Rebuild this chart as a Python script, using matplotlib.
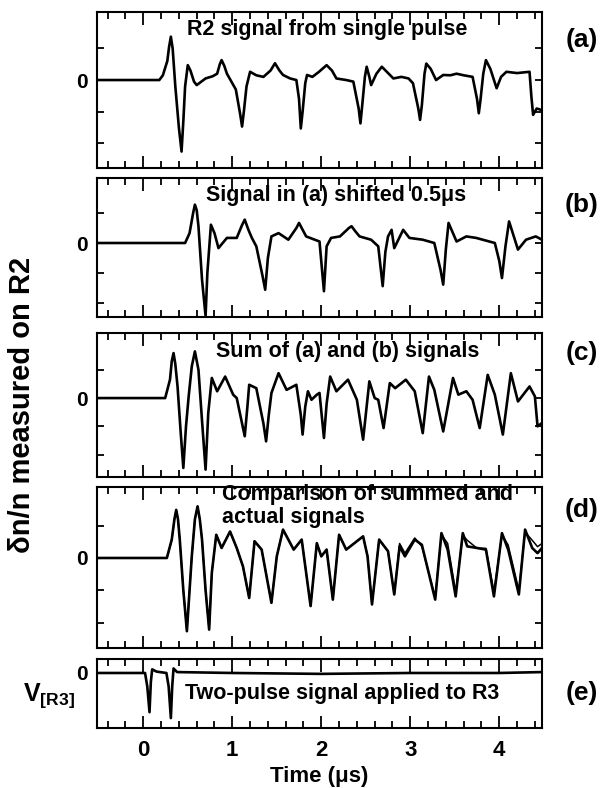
import matplotlib
matplotlib.use("Agg")
import matplotlib.pyplot as plt
from matplotlib.ticker import MultipleLocator

plt.rcParams['font.family'] = ['Liberation Sans', 'DejaVu Sans']
plt.rcParams['font.weight'] = 'bold'
plt.rcParams['mathtext.fontset'] = 'custom'
plt.rcParams['mathtext.bf'] = 'Liberation Sans:bold'
plt.rcParams['mathtext.rm'] = 'Liberation Sans:bold'

# ---- data (time in us, signal in arbitrary units) ----
t_a = [-0.52, 0.18, 0.22, 0.27, 0.29, 0.31, 0.33, 0.36, 0.40, 0.43, 0.45, 0.47, 0.50, 0.53, 0.57, 0.60,
       0.70, 0.78, 0.83, 0.86, 0.88, 0.91, 0.94, 0.97, 1.04, 1.09, 1.11, 1.13, 1.16, 1.20, 1.27, 1.35,
       1.43, 1.48, 1.53, 1.57, 1.65, 1.72, 1.75, 1.77, 1.79, 1.82, 1.84, 1.90, 1.97, 2.06, 2.12, 2.17,
       2.28, 2.36, 2.42, 2.44, 2.46, 2.49, 2.51, 2.54, 2.56, 2.62, 2.68, 2.74, 2.81, 2.90, 2.98, 3.03,
       3.09, 3.11, 3.13, 3.16, 3.18, 3.23, 3.29, 3.37, 3.45, 3.52, 3.60, 3.70, 3.75, 3.77, 3.79, 3.82,
       3.85, 3.90, 3.97, 4.02, 4.08, 4.20, 4.34, 4.36, 4.38, 4.42, 4.48]
y_a = [0.0, 0.0, 0.15, 0.6, 1.05, 1.37, 1.0, -0.2, -1.5, -2.26, -1.3, -0.2, 0.47, 0.3, -0.05, -0.16,
       0.05, 0.12, 0.2, 0.5, 0.63, 0.45, 0.2, 0.05, -0.3, -1.1, -1.47, -1.0, -0.2, 0.26, 0.15, 0.1,
       0.3, 0.53, 0.3, 0.16, 0.05, 0.0, -0.6, -1.53, -1.0, -0.1, 0.16, 0.1, 0.25, 0.47, 0.3, 0.05,
       0.0, -0.05, -0.9, -1.37, -0.8, 0.1, 0.42, 0.1, -0.16, 0.2, 0.42, 0.25, 0.05, 0.1, 0.05, -0.1,
       -0.9, -1.26, -0.8, 0.2, 0.52, 0.35, 0.0, 0.16, 0.15, 0.2, 0.15, 0.1, -0.6, -1.05, -0.6, 0.2,
       0.63, 0.35, -0.26, 0.1, 0.26, 0.22, 0.26, -0.5, -1.1, -0.9, -0.95]

t_b = [-0.52, 0.47, 0.52, 0.56, 0.58, 0.60, 0.62, 0.66, 0.70, 0.72, 0.76, 0.80, 0.845, 0.94, 1.05,
       1.11, 1.14, 1.18, 1.22, 1.27, 1.34, 1.37, 1.40, 1.44, 1.52, 1.63, 1.72, 1.75, 1.78, 1.83, 1.98,
       2.03, 2.06, 2.11, 2.21, 2.31, 2.34, 2.38, 2.43, 2.56, 2.64, 2.69, 2.72, 2.75, 2.79, 2.82, 2.92,
       2.99, 3.14, 3.27, 3.34, 3.37, 3.40, 3.43, 3.52, 3.63, 3.74, 3.95, 4.00, 4.03, 4.07, 4.11, 4.21,
       4.30, 4.41, 4.48]
y_b = [0.0, 0.0, 0.33, 1.0, 1.28, 1.1, 0.56, -1.22, -2.44, -1.0, 0.61, 0.33, -0.17, 0.17, 0.17,
       0.6, 0.78, 0.45, 0.17, -0.11, -1.1, -1.56, -0.5, 0.22, 0.33, 0.11, 0.5, 0.67, 0.5, 0.22, 0.05,
       -1.61, -0.11, 0.17, 0.22, 0.5, 0.56, 0.4, 0.22, 0.11, -0.11, -1.44, -0.3, 0.22, 0.44, -0.17, 0.44,
       0.17, 0.11, 0.0, -0.9, -1.39, -0.2, 0.67, 0.05, 0.22, 0.17, 0.0, -0.6, -1.17, -0.1, 0.72, -0.22,
       0.11, 0.22, 0.11]

t_c = [-0.52, 0.246, 0.30, 0.32, 0.34, 0.36, 0.385, 0.42, 0.45, 0.48, 0.51, 0.545, 0.58, 0.62, 0.66,
       0.70, 0.73, 0.77, 0.83, 0.92, 1.01, 1.05, 1.11, 1.14, 1.17, 1.19, 1.27, 1.35, 1.38, 1.41, 1.44,
       1.52, 1.61, 1.72, 1.77, 1.79, 1.82, 1.85, 1.89, 1.95, 1.98, 2.03, 2.06, 2.10, 2.17, 2.30, 2.40,
       2.47, 2.54, 2.60, 2.64, 2.70, 2.77, 2.83, 2.95, 3.05, 3.14, 3.21, 3.27, 3.37, 3.48, 3.54, 3.63,
       3.70, 3.78, 3.87, 3.95, 4.04, 4.13, 4.21, 4.34, 4.40, 4.43, 4.48]
y_c = [0.0, 0.0, 0.65, 1.3, 1.59, 1.2, 0.41, -1.2, -2.47, -1.0, 0.06, 1.12, 1.65, 1.0, -0.8,
       -2.53, -0.53, 0.71, 0.24, 0.76, 0.12, 0.0, -0.9, -1.35, -0.3, 0.47, 0.35, -0.9, -1.53, -0.6, 0.18,
       0.88, 0.29, 0.47, -0.6, -1.29, -0.3, 0.24, -0.06, 0.12, 0.18, -1.41, -0.2, 0.76, 0.24, 0.65, -0.06,
       -1.47, 0.59, 0.0, -0.06, -1.06, 0.53, 0.35, 0.65, 0.24, -1.24, 0.76, 0.29, -1.18, 0.71, 0.12, 0.24,
       -0.06, -1.06, 0.82, 0.12, -1.29, 0.88, -0.12, 0.41, 0.06, -1.0, -0.88]

t_d = [-0.52, 0.265, 0.32, 0.35, 0.37, 0.39, 0.41, 0.45, 0.49, 0.52, 0.545, 0.58, 0.61, 0.635, 0.66,
       0.70, 0.74, 0.77, 0.82, 0.88, 0.975, 1.05, 1.12, 1.19, 1.25, 1.33, 1.44, 1.50, 1.57, 1.69, 1.78,
       1.88, 1.95, 2.00, 2.06, 2.13, 2.20, 2.28, 2.47, 2.52, 2.57, 2.65, 2.75, 2.82, 2.88, 2.94, 3.05,
       3.13, 3.28, 3.35, 3.42, 3.51, 3.59, 3.64, 3.75, 3.85, 3.94, 4.03, 4.10, 4.22, 4.29, 4.37, 4.43,
       4.48]
y_sum_d = [0.0, 0.0, 0.57, 1.2, 1.49, 1.2, 0.57, -1.0, -2.27, -1.0, 0.05, 1.2, 1.6, 1.2, 0.57,
           -1.0, -2.22, -0.46, 0.72, 0.31, 0.82, 0.31, -0.26, -1.24, 0.52, 0.26, -1.39, 0.05, 0.88, 0.26, 0.57,
           -1.49, 0.46, 0.05, 0.26, -1.29, 0.72, 0.26, 0.67, 0.05, -1.44, 0.57, 0.21, -1.13, 0.36, 0.05, 0.57,
           0.41, -1.29, 0.77, 0.26, -1.19, 0.77, 0.36, 0.31, 0.26, -1.19, 0.77, 0.26, -1.13, 0.88, 0.31, 0.15,
           0.31]
y_act_d = [0.0, 0.0, 0.57, 1.2, 1.49, 1.2, 0.57, -1.0, -2.27, -1.0, 0.05, 1.2, 1.6, 1.2, 0.57,
           -1.0, -2.22, -0.46, 0.72, 0.31, 0.82, 0.31, -0.26, -1.24, 0.52, 0.26, -1.39, 0.05, 0.88, 0.26, 0.57,
           -1.49, 0.46, 0.05, 0.26, -1.29, 0.72, 0.26, 0.67, 0.05, -1.44, 0.57, 0.21, -1.13, 0.45, 0.15, 0.62,
           0.36, -1.22, 0.72, 0.45, -1.05, 0.70, 0.55, 0.30, 0.30, -1.05, 0.72, 0.40, -1.0, 0.80, 0.55, 0.35,
           0.45]

t_e = [-0.52, 0.02, 0.045, 0.07, 0.085, 0.10, 0.15, 0.26, 0.285, 0.31, 0.325, 0.34, 0.38, 1.0, 2.0, 3.0,
       4.0, 4.48]
y_e = [0.0, 0.0, -0.3, -0.87, -0.2, 0.08, 0.03, 0.0, -0.3, -1.0, -0.3, 0.1, 0.02, 0.0, -0.02, 0.0,
       0.0, 0.02]

titles = ["R2 signal from single pulse", "Signal in (a) shifted 0.5\u03bcs", "Sum of (a) and (b) signals",
          "Comparison of summed and\nactual signals", "Two-pulse signal applied to R3"]
panel_labels = ["(a)", "(b)", "(c)", "(d)", "(e)"]
x_ticks = [0, 1, 2, 3, 4]

# ---- layout ----
W, H = 614, 788
fig = plt.figure(figsize=(W / 100, H / 100), dpi=100)

def box(top, bottom):
    return [97 / W, 1 - bottom / H, 445 / W, (bottom - top) / H]

boxes = [box(12, 168), box(178, 317), box(333, 477), box(487, 648), box(659, 728)]
ylims = [(-2.78, 2.15), (-2.47, 2.17), (-2.79, 2.3), (-2.79, 2.2), (-1.22, 0.31)]
series = [[(t_a, y_a)], [(t_b, y_b)], [(t_c, y_c)], [(t_d, y_sum_d), (t_d, y_act_d)], [(t_e, y_e)]]
title_pos = [(327, 30, 'center'), (336, 195, 'center'), (348, 352, 'center'), (222, 506, 'left'),
             (185, 693, 'left')]
label_y = [40, 205, 353, 510, 693]

for i in range(5):
    ax = fig.add_axes(boxes[i])
    for j, (tt, yy) in enumerate(series[i]):
        ax.plot(tt, yy, color='black', lw=1.9 if j == 0 else 1.1, solid_joinstyle='round')
    ax.set_xlim(-0.52, 4.48)
    ax.set_ylim(*ylims[i])
    ax.xaxis.set_major_locator(MultipleLocator(1))
    ax.xaxis.set_minor_locator(MultipleLocator(0.2))
    ax.tick_params(axis='x', which='major', direction='in', top=True, bottom=True, length=9, width=1.3)
    ax.tick_params(axis='x', which='minor', direction='in', top=True, bottom=True, length=5, width=1.3)
    if i < 4:
        ax.set_yticks([-2, -1, 0, 1])
        ax.set_yticklabels(['', '', '0', ''])
        ax.tick_params(axis='y', which='major', direction='in', left=True, right=True, length=5,
                       width=1.3, labelsize=15, pad=7)
    else:
        ax.set_yticks([0])
        ax.set_yticklabels(['0'])
        ax.tick_params(axis='y', which='major', direction='in', left=False, right=False, labelsize=15,
                       pad=7)
    for s in ax.spines.values():
        s.set_linewidth(1.5)
    if i < 4:
        ax.set_xticklabels([])
    else:
        ax.set_xticks(x_ticks)
        ax.set_xticklabels([str(v) for v in x_ticks])
        ax.tick_params(axis='x', which='major', labelsize=16, pad=9)
        ax.set_xlabel("Time (\u03bcs)", fontsize=16, fontweight='bold', labelpad=3)
    x, y, ha = title_pos[i]
    fig.text(x / W, 1 - y / H, titles[i], ha=ha, va='center', fontsize=15.5, fontweight='bold',
             linespacing=1.1)
    fig.text(582 / W, 1 - label_y[i] / H, panel_labels[i], ha='center', va='center', fontsize=19,
             fontweight='bold')

fig.text(22 / W, 1 - 405 / H, "\u03b4n/n measured on R2", rotation=90, ha='center', va='center',
         fontsize=21, fontweight='bold')
fig.text(49 / W, 1 - 696 / H, "V$_{\\mathbf{[R3]}}$", ha='center', va='center', fontsize=18,
         fontweight='bold')

fig.savefig("out.png", dpi=100)
